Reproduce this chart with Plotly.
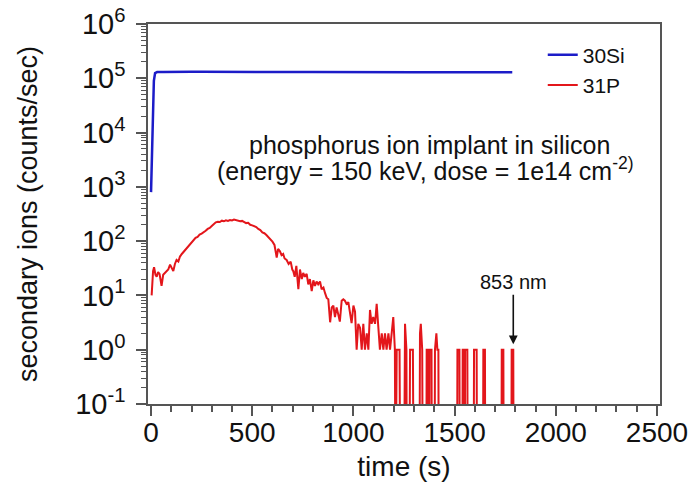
import plotly.graph_objects as go

# ---------------- data ----------------
si_time = [0, 3, 6, 10, 14, 20, 30, 60, 100, 150, 200, 250, 300, 350, 400, 450, 500,
           550, 600, 650, 700, 750, 800, 850, 900, 950, 1000, 1050, 1100, 1150, 1200,
           1250, 1300, 1350, 1400, 1450, 1500, 1550, 1600, 1650, 1700, 1750, 1785]
si_counts = [800, 3000, 12000, 40000, 90000, 125000, 130000, 131000, 132000, 131000,
             132000, 131500, 131000, 132000, 131500, 131000, 130500, 131000, 130000,
             130500, 131000, 130000, 130500, 130000, 129500, 130000, 130500, 129500,
             130000, 129000, 129500, 130000, 129000, 129500, 128500, 129000, 129500,
             128500, 129000, 128500, 129000, 128500, 128500]

p_time = [3, 10, 15, 22, 28, 35, 42, 52, 60, 68, 76, 85, 94, 102, 110, 118, 126, 135, 143,
          152, 160, 170, 180, 190, 200, 210, 220, 230, 240, 250, 260, 270, 280, 290, 300,
          310, 320, 330, 340, 350, 360, 370, 380, 390, 400, 410, 420, 430, 440, 450, 460,
          470, 480, 490, 500, 510, 520, 530, 540, 550, 560, 570, 580, 590, 600, 610, 615,
          621, 628, 637, 645, 653, 660, 670, 680, 690, 698, 703, 710, 718, 728, 736, 745,
          752, 760, 769, 777, 785, 794, 802, 810, 818, 826, 835, 843, 852, 860, 868, 876,
          885, 893, 901, 909, 917, 925, 933, 942, 950, 958, 966, 975, 983, 991, 1000, 1008,
          1016, 1024, 1033, 1041, 1049, 1057, 1066, 1074, 1082, 1090, 1098, 1107, 1115,
          1123, 1131, 1140, 1148, 1156, 1164, 1173, 1181, 1189, 1197, 1205,
          1208, 1214, 1228, 1232, 1250, 1255, 1262, 1264, 1276, 1280, 1294, 1298, 1326,
          1329, 1333, 1340, 1343, 1360, 1362, 1368, 1372, 1374, 1376, 1386, 1388, 1401,
          1403, 1410, 1415, 1420, 1422, 1512, 1514, 1524, 1526, 1538, 1540, 1548, 1550,
          1552, 1563, 1565, 1594, 1596, 1609, 1611, 1640, 1642, 1650, 1652, 1731, 1733,
          1741, 1743, 1780, 1782, 1790, 1792]
p_counts = [10, 28, 33, 24, 22, 27, 25, 15, 24, 26, 28, 30, 37, 31, 28, 38, 45, 42, 52,
            58, 63, 72, 78, 88, 98, 105, 115, 120, 132, 138, 145, 155, 168, 175, 190,
            205, 222, 228, 225, 238, 232, 242, 236, 245, 240, 250, 244, 238, 232, 236, 222,
            215, 218, 200, 195, 188, 182, 168, 160, 145, 140, 130, 120, 110, 98, 85, 60,
            50, 72, 65, 55, 58, 48, 45, 38, 42, 30, 28, 22, 35, 13, 30, 20,
            26, 22, 25, 16, 20, 12, 19, 15, 18, 16, 18, 13, 14, 11, 9, 8.5,
            3.2, 6, 6.5, 4, 6, 4.5, 3.3, 8, 8.5, 8, 7, 7.5, 4.5, 3.1, 6.5, 5,
            1, 3, 2.5, 1, 3, 1, 2, 1, 5.4, 3, 4, 3, 7,
            3, 1, 2, 1, 2, 1, 2, 1, 2, 4, 1,
            0, 1, 1, 0, 0, 3, 1, 0, 0, 1, 1, 0, 0,
            2, 3, 1, 0, 0, 1, 1, 0, 0, 1, 1, 0, 0,
            1, 2, 1, 1, 0, 0, 1, 1, 0, 0, 1, 1, 0,
            1, 1, 0, 0, 1, 1, 0, 0, 1, 1, 0, 0, 1,
            1, 0, 0, 1, 1, 0]

x_tickvals = [0, 500, 1000, 1500, 2000, 2500]
y_exponents = [-1, 0, 1, 2, 3, 4, 5, 6]
y_tickvals = [10.0 ** e for e in y_exponents]
y_ticktext = ["10<sup>%d</sup>" % e for e in y_exponents]
series_names = ["30Si", "31P"]
arrow_time, arrow_label = 1790, "853 nm"

# zero counts cannot sit on a log axis: draw them below the floor (clipped by the frame)
p_plot = [c if c > 0 else 1e-3 for c in p_counts]

FONT = "Liberation Sans, Arial, sans-serif"
AX = "#555555"
TXT = "#111111"
XRANGE = [-15, 2515]

fig = go.Figure()
fig.add_trace(go.Scatter(x=si_time, y=si_counts, mode="lines", name=series_names[0],
                         line=dict(color="#1c1cc8", width=2.5)))
fig.add_trace(go.Scatter(x=p_time, y=p_plot, mode="lines", name=series_names[1],
                         line=dict(color="#e3161b", width=2)))
# empty trace so the label-only x axis (x2) exists
fig.add_trace(go.Scatter(x=[], y=[], xaxis="x2", yaxis="y", showlegend=False, hoverinfo="skip"))

fig.update_layout(
    width=692, height=484,
    margin=dict(l=148, r=32, t=24, b=80, autoexpand=False),
    paper_bgcolor="white", plot_bgcolor="white",
    font=dict(family=FONT, color=TXT),
    showlegend=True,
    legend=dict(x=0.771, y=0.972, xanchor="left", yanchor="top",
                font=dict(size=21, family=FONT, color=TXT),
                bgcolor="rgba(0,0,0,0)", tracegroupgap=0, itemwidth=30),
    xaxis=dict(
        range=XRANGE, tickvals=x_tickvals, ticks="outside", ticklen=10, tickwidth=1.5,
        tickcolor=AX, showline=True, linecolor=AX, linewidth=1.5, mirror=True,
        showgrid=False, zeroline=False, automargin=False, showticklabels=False,
        minor=dict(dtick=100, ticks="outside", ticklen=6, tickwidth=1.5, tickcolor=AX,
                   showgrid=False),
    ),
    xaxis2=dict(
        overlaying="x", anchor="y", side="bottom", range=XRANGE, tickvals=x_tickvals,
        ticks="", showline=False, showgrid=False, zeroline=False, automargin=False,
        ticklabelstandoff=9,
        tickfont=dict(size=28, family=FONT, color=TXT),
        title=dict(text="time (s)", font=dict(size=28, family=FONT, color=TXT), standoff=9),
    ),
    yaxis=dict(
        type="log", range=[-1, 6], tickvals=y_tickvals, ticktext=y_ticktext,
        ticks="outside", ticklen=10, tickwidth=1.5, tickcolor=AX,
        showline=True, linecolor=AX, linewidth=1.5, mirror=True,
        showgrid=False, zeroline=False, automargin=False, ticklabelstandoff=5,
        ticklabeloverflow="allow",
        tickfont=dict(size=29, family=FONT, color=TXT),
        minor=dict(dtick="D1", ticks="outside", ticklen=5, tickwidth=1, tickcolor=AX,
                   showgrid=False),
        title=dict(text="secondary ions (counts/sec)",
                   font=dict(size=27, family=FONT, color=TXT), standoff=30),
    ),
)

fig.add_annotation(x=1378, y=3.78, xref="x", yref="y", showarrow=False,
                   text="phosphorus ion implant in silicon",
                   font=dict(size=25, family=FONT, color=TXT))
fig.add_annotation(x=1354, y=3.32, xref="x", yref="y", showarrow=False,
                   text="(energy = 150 keV, dose = 1e14 cm<sup>-2)</sup>",
                   font=dict(size=25, family=FONT, color=TXT))
fig.add_annotation(x=arrow_time, y=0.1, xref="x", yref="y", text=arrow_label,
                   showarrow=True, arrowhead=2, arrowsize=1.1, arrowwidth=1.6,
                   arrowcolor=TXT, ax=0, ay=-62,
                   font=dict(size=20, family=FONT, color=TXT))

# the page body has a default 8px margin; remove it so the figure fills the window
fig.write_html("out.html", config={"displayModeBar": False},
               post_script="document.body.style.margin='0';")
